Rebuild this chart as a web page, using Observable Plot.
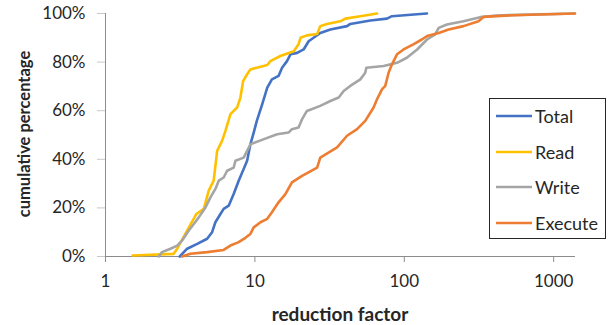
<!DOCTYPE html>
<html>
<head>
<meta charset="utf-8">
<script src="https://cdn.jsdelivr.net/npm/d3@7"></script>
<script src="https://cdn.jsdelivr.net/npm/@observablehq/plot@0.6"></script>
<style>
  body { margin: 0; background: #fff; }
  #wrap { position: relative; width: 613px; height: 325px; font-family: Lato, "Open Sans", sans-serif; }
  #legend { position: absolute; left: 489px; top: 98px; width: 117px; height: 141px; border: 1px solid #262626; box-sizing: border-box; background: #fff; }
  .item { position: absolute; left: 6px; display: flex; align-items: center; font-size: 18px; color: #262626; line-height: 22px; }
  .item svg { margin-right: 3px; }
</style>
</head>
<body>
<div id="wrap"></div>
<script>
const seriesNames = ["Total", "Read", "Write", "Execute"];
const seriesColors = ["#4472C4", "#FFC000", "#A5A5A5", "#ED7D31"];
const xTicks = [1, 10, 100, 1000];
const yTicks = [0, 20, 40, 60, 80, 100];

const totalX = [3.14, 3.52, 4.11, 4.79, 5.17, 5.44, 5.88, 6.18, 6.68, 7.21, 7.79, 8.41, 8.87, 9.33, 9.82, 10.3, 11.2, 12.1, 13.0, 14.4, 15.2, 16.4, 17.3, 19.2, 21.2, 22.9, 27.4, 32.0, 41.4, 43.5, 59.3, 76.6, 82.7, 128, 142];
const totalY = [0, 3.2, 5.2, 7.3, 10.0, 14.1, 17.5, 19.6, 20.9, 25.7, 31.2, 36.0, 39.4, 46.2, 51.0, 55.8, 62.7, 69.5, 72.9, 74.3, 77.7, 80.4, 83.2, 83.8, 85.2, 88.6, 92.0, 93.4, 94.8, 95.7, 97.1, 97.9, 98.9, 99.8, 100];

const readX = [1.52, 2.86, 3.02, 3.52, 4.06, 4.55, 4.91, 5.30, 5.59, 6.03, 6.35, 6.86, 7.60, 8.00, 8.34, 8.87, 9.33, 10.3, 12.1, 12.7, 14.8, 18.2, 19.6, 20.2, 22.3, 26.1, 27.4, 30.4, 37.3, 40.3, 50.8, 65.7];
const readY = [0.4, 1.1, 3.2, 10.7, 17.5, 19.6, 27.1, 31.2, 43.5, 47.6, 51.7, 58.6, 61.3, 65.4, 72.2, 75.0, 77.0, 77.7, 78.8, 80.4, 82.5, 84.5, 87.3, 90.0, 91.0, 91.6, 94.8, 95.7, 96.8, 97.9, 98.9, 100];

const writeX = [2.27, 2.39, 2.72, 3.02, 3.26, 3.61, 3.90, 4.21, 4.67, 5.04, 5.44, 5.73, 6.18, 6.52, 7.21, 7.41, 8.41, 8.87, 9.33, 11.5, 14.1, 16.8, 17.7, 19.6, 20.7, 22.3, 27.4, 32.0, 36.4, 39.3, 43.5, 50.8, 54.8, 55.7, 72.7, 89.4, 104, 122, 142, 161, 170, 193, 249, 322, 417, 1380];
const writeY = [0, 1.8, 3.2, 4.5, 6.6, 10.7, 13.4, 16.1, 20.2, 24.3, 27.8, 31.2, 32.5, 35.3, 36.6, 39.4, 40.7, 43.5, 46.2, 48.3, 50.3, 51.0, 52.4, 53.1, 56.5, 59.9, 62.0, 64.0, 65.4, 68.1, 70.2, 72.9, 75.6, 77.7, 78.4, 79.7, 81.8, 85.2, 89.3, 91.4, 94.1, 95.5, 96.8, 98.5, 99.2, 100];

const executeX = [3.26, 3.70, 4.79, 6.18, 6.86, 7.79, 8.64, 9.33, 9.82, 10.9, 12.1, 13.0, 14.4, 16.0, 17.7, 20.7, 26.1, 27.4, 35.5, 41.4, 48.3, 54.8, 62.3, 65.7, 70.9, 74.6, 78.5, 82.7, 89.4, 98.9, 115, 131, 142, 170, 198, 249, 314, 339, 538, 1390];
const executeY = [0, 1.1, 1.8, 2.7, 4.5, 5.9, 7.7, 9.3, 12.0, 14.1, 15.5, 18.2, 22.3, 25.7, 30.5, 33.2, 36.6, 40.7, 44.9, 49.7, 52.4, 55.8, 61.3, 64.7, 68.8, 70.2, 75.6, 79.1, 83.2, 85.2, 87.3, 89.3, 90.7, 92.0, 93.4, 94.8, 96.8, 98.6, 99.3, 100];

const seriesX = [totalX, readX, writeX, executeX];
const seriesY = [totalY, readY, writeY, executeY];
const rows = [];
seriesNames.forEach((name, i) => {
  seriesX[i].forEach((x, j) => rows.push({series: name, x, y: seriesY[i][j]}));
});

const chart = Plot.plot({
  width: 613,
  height: 325,
  marginLeft: 105,
  marginRight: 38,
  marginTop: 13,
  marginBottom: 69,
  style: {fontFamily: "Lato, 'Open Sans', sans-serif", fontSize: "17px", color: "#262626", background: "#fff"},
  x: {type: "log", domain: [1, 1400]},
  y: {domain: [0, 100]},
  color: {domain: seriesNames, range: seriesColors},
  marks: [
    Plot.axisY({ticks: yTicks, tickFormat: d => d + "%", tickSize: 8, tickPadding: 12, stroke: "#c8c8c8", label: null, fontSize: 17}),
    Plot.axisX({ticks: xTicks, tickFormat: d => String(d), tickSize: 6, tickPadding: 12, stroke: "#8c8c8c", label: null, fontSize: 17}),
    Plot.ruleY([0], {stroke: "#8c8c8c", strokeWidth: 1}),
    Plot.ruleX([1], {stroke: "#8c8c8c", strokeWidth: 1}),
    Plot.line(rows, {x: "x", y: "y", z: "series", stroke: "series", strokeWidth: 2.6, curve: "linear", strokeLinejoin: "round"})
  ]
});

const svg = d3.select(chart);
svg.append("text")
  .attr("x", 340).attr("y", 321)
  .attr("text-anchor", "middle")
  .attr("font-weight", "bold").attr("font-size", 19).attr("fill", "#262626")
  .text("reduction factor");
svg.append("text")
  .attr("transform", "translate(30,134) rotate(-90)")
  .attr("text-anchor", "middle")
  .attr("font-weight", "bold").attr("font-size", 16.5).attr("fill", "#262626")
  .text("cumulative percentage");

const wrap = document.getElementById("wrap");
wrap.appendChild(chart);

const legend = document.createElement("div");
legend.id = "legend";
seriesNames.forEach((name, i) => {
  const item = document.createElement("div");
  item.className = "item";
  item.style.top = (6 + i * 35.5) + "px";
  item.innerHTML = `<svg width="36" height="6"><line x1="0" x2="36" y1="3" y2="3" stroke="${seriesColors[i]}" stroke-width="2.5"/></svg><span>${name}</span>`;
  legend.appendChild(item);
});
wrap.appendChild(legend);
</script>
</body>
</html>
